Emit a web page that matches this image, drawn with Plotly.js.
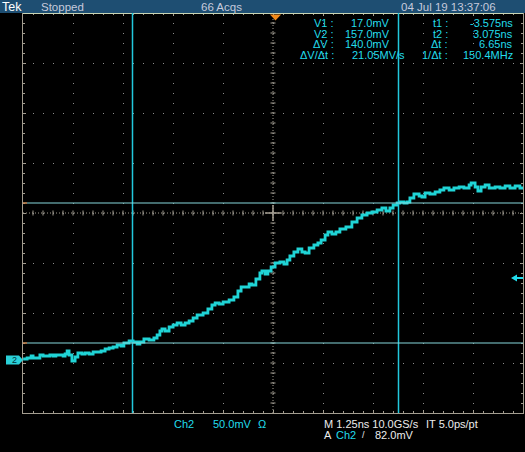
<!DOCTYPE html>
<html><head><meta charset="utf-8">
<script src="https://cdn.plot.ly/plotly-3.0.1.min.js"></script>
<style>html,body{margin:0;padding:0;background:#000;}#chart{width:525px;height:452px;}</style>
</head><body><div id="chart"></div>
<script>
// ---- data (Ch2 waveform: time in ns, voltage in mV) ----
const timeNs = [-6.31,-6.21,-6.11,-6.06,-5.96,-5.89,-5.81,-5.71,-5.64,-5.56,
 -5.49,-5.39,-5.31,-5.26,-5.21,-5.16,-5.09,-5.01,-4.94,-4.84,
 -4.76,-4.66,-4.56,-4.46,-4.36,-4.26,-4.16,-4.06,-3.96,-3.86,
 -3.79,-3.66,-3.56,-3.46,-3.39,-3.29,-3.16,-3.04,-2.96,-2.89,
 -2.84,-2.76,-2.66,-2.56,-2.46,-2.36,-2.26,-2.16,-2.06,-1.96,
 -1.81,-1.69,-1.59,-1.51,-1.41,-1.31,-1.16,-1.04,-0.94,-0.86,
 -0.76,-0.66,-0.59,-0.49,-0.39,-0.34,-0.26,-0.19,-0.11,-0.01,
 0.11,0.21,0.29,0.36,0.46,0.56,0.66,0.74,0.84,0.96,
 1.06,1.14,1.24,1.31,1.41,1.51,1.61,1.76,1.91,2.04,
 2.16,2.29,2.41,2.54,2.66,2.76,2.86,2.94,3.04,3.11,
 3.21,3.29,3.36,3.46,3.59,3.66,3.74,3.86,3.99,4.11,
 4.21,4.34,4.46,4.59,4.71,4.84,4.89,4.99,5.06,5.14,
 5.24,5.34,5.49,5.61,5.74,5.86,5.99,6.11,6.19];
const ch2mV = [1,2,4,2,2,5,4,4,5,4,
 5,5,4,6,9,5,-1,3,7,6,
 7,6,8,8,9,11,12,13,15,14,
 17,19,18,16,18,21,20,22,25,29,
 31,29,33,35,37,35,37,39,42,45,
 47,51,55,57,56,58,60,63,69,73,
 73,76,75,81,87,89,86,89,93,97,
 98,96,100,104,108,111,108,107,112,115,
 117,120,125,128,126,128,131,133,138,142,
 145,147,148,150,152,149,152,155,157,158,
 157,158,162,166,164,163,167,166,168,170,
 172,170,172,173,172,175,177,173,169,173,
 175,172,173,172,174,172,174,172,173];
const cursorT = [-3.575, 3.075];   // ns
const cursorV = [17.0, 157.0];     // mV
const triggerLevelmV = 82.0;
const nsPerDiv = 1.25, mVPerDiv = 50;
const xRange = [-6.3125, 6.1875];
const yRange = [-53, 347];

const headerTexts = ["Tek", "Stopped", "66 Acqs", "04 Jul 19 13:37:06"];
const bottomRow1 = ["Ch2", "50.0mV", "Ω", "M 1.25ns 10.0GS/s", "IT 5.0ps/pt"];
const bottomRow2 = ["A", "Ch2", "/", "82.0mV"];

// ---- helpers ----
const L = 23, T = 13, W = 500, H = 400;
const px = x => (x - L) / W;
const py = y => (T + H - y) / H;
const FONT = "Liberation Sans, Arial, sans-serif";
const CYAN = "#22dcec";
const GRID = "#8e8e8e";
const FRAME = "#a39d90";

const shapes = [];
// header bar
shapes.push({type:'rect', xref:'paper', yref:'paper', x0:px(0), x1:px(525), y0:py(13), y1:py(0),
  fillcolor:'#1e4e72', line:{width:0}, layer:'above'});
shapes.push({type:'line', xref:'paper', yref:'paper', x0:px(23), x1:px(523), y0:py(13.5), y1:py(13.5),
  line:{color:'#c8d4b4', width:1}, layer:'above'});

// center crosshair
const tC = xRange[0] + 5 * nsPerDiv;
const vC = yRange[0] + 4 * mVPerDiv;
shapes.push({type:'line', xref:'paper', yref:'y', x0:0, x1:1, y0:vC, y1:vC,
  line:{color:FRAME, width:1, dash:'1px,2px'}, layer:'below'});
shapes.push({type:'line', xref:'x', yref:'paper', x0:tC, x1:tC, y0:0, y1:1,
  line:{color:FRAME, width:1, dash:'1px,2px'}, layer:'below'});
for (let k = 1; k < 50; k++) {
  const t = xRange[0] + k * nsPerDiv / 5;
  shapes.push({type:'line', xref:'x', yref:'y', x0:t, x1:t, y0:vC - 2.5, y1:vC + 2.5,
    line:{color:FRAME, width:1}, layer:'below'});
}
for (let k = 1; k < 40; k++) {
  const v = yRange[0] + k * mVPerDiv / 5;
  shapes.push({type:'line', xref:'x', yref:'y', x0:tC - 0.0625, x1:tC + 0.0625, y0:v, y1:v,
    line:{color:FRAME, width:1}, layer:'below'});
}
shapes.push({type:'line', xref:'x', yref:'y', x0:tC - 0.2, x1:tC + 0.2, y0:vC, y1:vC, line:{color:FRAME, width:1.5}, layer:'below'});
shapes.push({type:'line', xref:'x', yref:'y', x0:tC, x1:tC, y0:vC - 8, y1:vC + 8, line:{color:FRAME, width:1.5}, layer:'below'});

// cursors
cursorT.forEach(t => shapes.push({type:'line', xref:'x', yref:'paper', x0:t, x1:t, y0:0, y1:1,
  line:{color:'#22c8dc', width:1.5}, layer:'above'}));
cursorV.forEach(v => {
  shapes.push({type:'line', xref:'paper', yref:'y', x0:0, x1:1, y0:v, y1:v,
    line:{color:'#86d8dc', width:1.2}, layer:'above'});
  shapes.push({type:'line', xref:'paper', yref:'y', x0:0, x1:px(27), y0:v, y1:v,
    line:{color:'#e0702a', width:1.2}, layer:'above'});
});

// trigger level arrow (right edge)
const a0 = px(511), a1 = px(517), a2 = px(523);
shapes.push({type:'path', xref:'paper', yref:'y',
  path:`M ${a0},${triggerLevelmV} L ${a1},${triggerLevelmV+3.5} L ${a1},${triggerLevelmV+1} L ${a2},${triggerLevelmV+1} L ${a2},${triggerLevelmV-1} L ${a1},${triggerLevelmV-1} L ${a1},${triggerLevelmV-3.5} Z`,
  fillcolor:CYAN, line:{width:0}, layer:'above'});
// ground marker (left, Ch2 at 0 mV)
const g0 = px(6), g1 = px(19), g2 = px(23);
shapes.push({type:'path', xref:'paper', yref:'y',
  path:`M ${g0},4.5 L ${g1},4.5 L ${g2},0 L ${g1},-4.5 L ${g0},-4.5 Z`,
  fillcolor:'#2ad0d8', line:{width:0}, layer:'above'});
// trigger position marker (top)
shapes.push({type:'path', xref:'x', yref:'paper',
  path:`M -0.14,${py(14.5)} L 0.14,${py(14.5)} L 0,${py(20.5)} Z`,
  fillcolor:'#f08a1c', line:{width:0}, layer:'above'});

// ---- annotations ----
const ann = [];
function txt(text, x, y, anchor, color, size) {
  ann.push({text:text, xref:'paper', yref:'paper', x:px(x), y:py(y), xanchor:anchor, yanchor:'middle',
    showarrow:false, borderpad:0, font:{family:FONT, size:size || 11, color:color}});
}
txt(headerTexts[0], 1, 6.8, 'left', '#ffffff', 12.5);
txt(headerTexts[1], 40, 6.8, 'left', '#c6cadc', 11.5);
txt(headerTexts[2], 200, 6.8, 'left', '#c6cadc', 11.5);
txt(headerTexts[3], 400, 6.8, 'left', '#c6cadc', 11.5);

const dT = cursorT[1] - cursorT[0];
const dV = cursorV[1] - cursorV[0];
const rowsY = [23.3, 33.7, 44.1, 54.5];
const leftLabels = ["V1 :", "V2 :", "ΔV :", "ΔV/Δt :"];
const leftValues = [cursorV[0].toFixed(1) + "mV", cursorV[1].toFixed(1) + "mV", dV.toFixed(1) + "mV",
  (dV / dT).toFixed(2) + "MV/s"];
const rightLabels = ["t1 :", "t2 :", "Δt :", "1/Δt :"];
const rightValues = [cursorT[0].toFixed(3) + "ns", cursorT[1].toFixed(3) + "ns", dT.toFixed(2) + "ns",
  (1000 / dT).toFixed(1) + "MHz"];
rowsY.forEach((y, i) => {
  txt(leftLabels[i], 335, y, 'right', CYAN, 11);
  txt(leftValues[i], i === 3 ? 406 : 391, y, 'right', CYAN, 11);
  txt(rightLabels[i], 449, y, 'right', CYAN, 11);
  txt(rightValues[i], 513.5, y, 'right', CYAN, 11);
});

txt(bottomRow1[0], 173, 424, 'left', CYAN, 11);
txt(bottomRow1[1], 212, 424, 'left', CYAN, 11);
txt(bottomRow1[2], 257, 424, 'left', CYAN, 11);
txt(bottomRow1[3], 323, 424, 'left', '#ececec', 11);
txt(bottomRow1[4], 425, 424, 'left', '#ececec', 11);
txt(bottomRow2[0], 323, 435.5, 'left', '#ececec', 11);
txt(bottomRow2[1], 335, 435.5, 'left', CYAN, 11);
txt(bottomRow2[2], 361, 435.5, 'left', '#ececec', 9);
txt(bottomRow2[3], 374, 435.5, 'left', '#ececec', 11);
txt("2", 11, 360, 'left', '#003038', 9);

const trace = {x:timeNs, y:ch2mV, type:'scatter', mode:'lines',
  line:{color:'#20d4d6', width:2.8, shape:'hv'}, hoverinfo:'skip'};

const axCommon = {showticklabels:false, zeroline:false, showline:true, linecolor:FRAME, linewidth:1,
  mirror:'allticks', ticks:'inside', ticklen:3, tickcolor:FRAME, tickwidth:1,
  showgrid:true, gridcolor:GRID, gridwidth:1, griddash:'1px,9px', fixedrange:true};

const layout = {
  width:525, height:452, margin:{l:23, r:2, t:13, b:39},
  paper_bgcolor:'#000000', plot_bgcolor:'#000000', showlegend:false,
  xaxis:Object.assign({}, axCommon, {range:xRange, tick0:xRange[0], dtick:nsPerDiv,
    minor:{tick0:xRange[0], dtick:nsPerDiv/5, ticks:'inside', ticklen:2, tickcolor:FRAME, showgrid:false}}),
  yaxis:Object.assign({}, axCommon, {range:yRange, tick0:yRange[0], dtick:mVPerDiv,
    minor:{tick0:yRange[0], dtick:mVPerDiv/5, ticks:'inside', ticklen:2, tickcolor:FRAME, showgrid:false}}),
  shapes:shapes, annotations:ann
};
Plotly.newPlot('chart', [trace], layout, {staticPlot:true, displayModeBar:false});
</script></body></html>
